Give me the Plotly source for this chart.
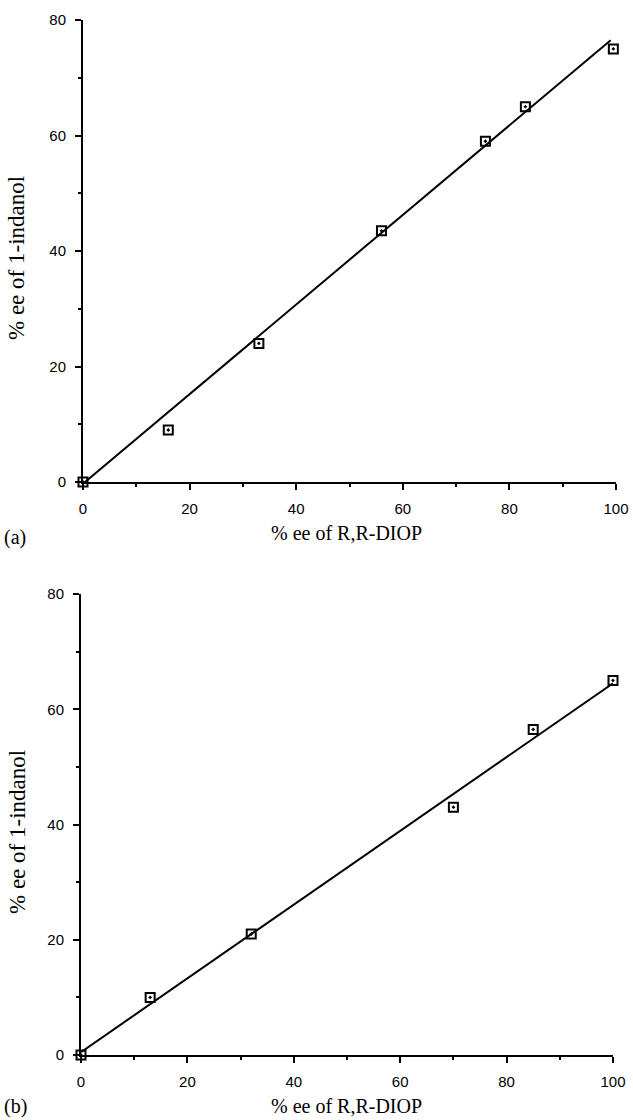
import plotly.graph_objects as go

# Panel (a) data
a_x = [0, 16, 33, 56, 75.5, 83, 99.5]
a_y = [0, 9, 24, 43.5, 59, 65, 75]
a_fit_x = [0, 99]
a_fit_y = [-0.3, 76.5]

# Panel (b) data
b_x = [0, 13, 32, 70, 85, 100]
b_y = [0, 10, 21, 43, 56.5, 65]
b_fit_x = [0, 100]
b_fit_y = [0.5, 64.5]

x_ticks = [0, 20, 40, 60, 80, 100]
y_ticks = [0, 20, 40, 60, 80]
x_title = "% ee of R,R-DIOP"
y_title = "% ee of 1-indanol"
panel_labels = ["(a)", "(b)"]

W, H = 633, 1120

def px_x(p):
    return p / W

def px_y(p):
    return 1 - p / H

fig = go.Figure()

panels = [
    dict(x=a_x, y=a_y, fx=a_fit_x, fy=a_fit_y, xd=[83, 616], yd=[20, 482], xa="x", ya="y"),
    dict(x=b_x, y=b_y, fx=b_fit_x, fy=b_fit_y, xd=[81, 613], yd=[594, 1055], xa="x2", ya="y2"),
]

for p in panels:
    fig.add_trace(go.Scatter(x=p["fx"], y=p["fy"], mode="lines",
                             line=dict(color="black", width=2),
                             xaxis=p["xa"], yaxis=p["ya"], showlegend=False,
                             cliponaxis=False))
    fig.add_trace(go.Scatter(x=p["x"], y=p["y"], mode="markers",
                             marker=dict(symbol="square-open-dot", size=9, color="black",
                                         line=dict(width=2, color="black")),
                             xaxis=p["xa"], yaxis=p["ya"], showlegend=False,
                             cliponaxis=False))

axis_common = dict(showgrid=False, zeroline=False, showline=True, linecolor="black",
                   linewidth=2, ticks="outside", ticklen=6, tickwidth=2, tickcolor="black",
                   tickfont=dict(family="Liberation Sans, Arial", size=15, color="black"),
                   ticklabelstandoff=6,
                   mirror=False, automargin=False)

layout = dict(width=W, height=H, margin=dict(l=0, r=0, t=0, b=0, autoexpand=False),
              plot_bgcolor="white", paper_bgcolor="white", showlegend=False,
              template="none")

for i, p in enumerate(panels):
    xk = "xaxis" if i == 0 else "xaxis2"
    yk = "yaxis" if i == 0 else "yaxis2"
    layout[xk] = dict(axis_common, domain=[px_x(p["xd"][0]), px_x(p["xd"][1])],
                      range=[0, 100], tickvals=x_ticks, anchor=p["ya"],
                      minor=dict(dtick=10, tick0=0, ticks="outside", ticklen=3,
                                 tickwidth=2, tickcolor="black"))
    layout[yk] = dict(axis_common, domain=[px_y(p["yd"][1]), px_y(p["yd"][0])],
                      range=[0, 80], tickvals=y_ticks, anchor=p["xa"],
                      minor=dict(dtick=10, tick0=0, ticks="outside", ticklen=3,
                                 tickwidth=2, tickcolor="black"))

fig.update_layout(**layout)

serif = "Liberation Serif, Times New Roman, serif"
ann_pos = [
    dict(xt=346, yt=533, yl=258, lab_y=537),
    dict(xt=346, yt=1106, yl=832, lab_y=1106),
]
for i, a in enumerate(ann_pos):
    fig.add_annotation(text=x_title, xref="paper", yref="paper",
                       x=px_x(a["xt"]), y=px_y(a["yt"]), showarrow=False,
                       font=dict(family=serif, size=20, color="black"),
                       xanchor="center", yanchor="middle")
    fig.add_annotation(text=y_title, xref="paper", yref="paper",
                       x=px_x(17), y=px_y(a["yl"]), showarrow=False, textangle=-90,
                       font=dict(family=serif, size=23, color="black"),
                       xanchor="center", yanchor="middle")
    fig.add_annotation(text=panel_labels[i], xref="paper", yref="paper",
                       x=px_x(2), y=px_y(a["lab_y"]), showarrow=False,
                       font=dict(family=serif, size=20, color="black"),
                       xanchor="left", yanchor="middle")

fig.write_html("out.html",
               config={"displayModeBar": False},
               post_script="document.body.style.margin='0';document.body.style.overflow='hidden';")
